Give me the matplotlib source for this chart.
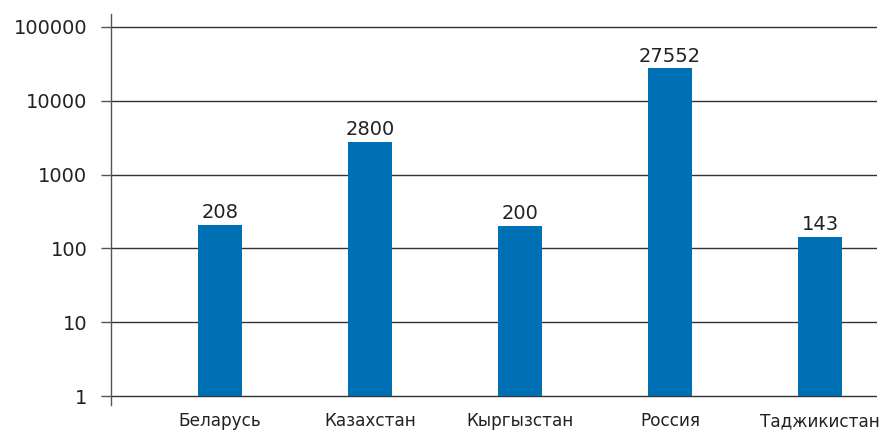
import matplotlib
matplotlib.use('Agg')
import matplotlib.pyplot as plt
import numpy as np

countries = ['Беларусь', 'Казахстан', 'Кыргызстан', 'Россия', 'Таджикистан']
values = [208, 2800, 200, 27552, 143]
yticks = [1, 10, 100, 1000, 10000, 100000]

plt.rcParams['font.family'] = ['DejaVu Sans']

fig = plt.figure(figsize=(8.8, 4.3), dpi=100)
ax = fig.add_axes([111/880, 1-405/430, (877-111)/880, (405-14)/430])

x = np.arange(len(countries))
bars = ax.bar(x, [v - 1 for v in values], bottom=1, width=0.29, color='#0070b5', zorder=3)

ax.set_yscale('log')
ax.set_ylim(0.756, 1.5e5)
ax.set_xlim(-0.727, 4.38)
ax.set_yticks(yticks)
ax.set_yticklabels([str(t) for t in yticks])
ax.minorticks_off()
ax.yaxis.grid(True, color='#333333', linewidth=1, zorder=0)
ax.set_axisbelow(True)

ax.set_xticks(x)
ax.set_xticklabels(countries)
ax.tick_params(axis='x', length=0, pad=5, labelsize=12.2, colors='#222222')
ax.tick_params(axis='y', length=7, width=1, direction='out', pad=10,
               labelsize=14, colors='#555555', labelcolor='#222222')

for s in ['top', 'right', 'bottom']:
    ax.spines[s].set_visible(False)
ax.spines['left'].set_color('#555555')
ax.spines['left'].set_linewidth(1)

for xi, v in zip(x, values):
    ax.annotate(str(v), (xi, v), xytext=(0, 2), textcoords='offset points',
                ha='center', va='bottom', fontsize=14, color='#222222')

fig.savefig('out.png', dpi=100)
